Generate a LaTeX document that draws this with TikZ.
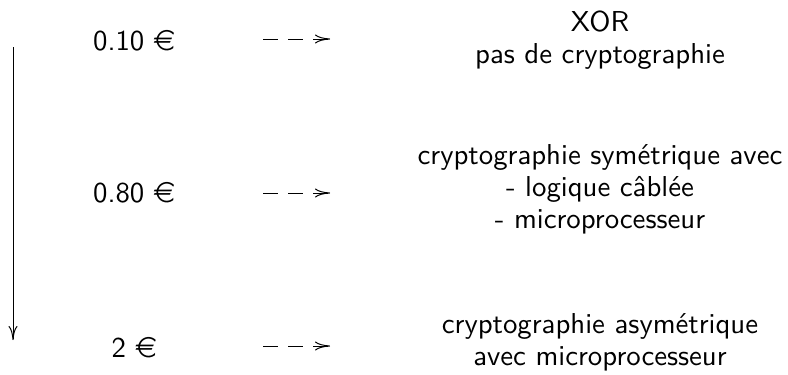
\documentclass[tikz,border=0pt]{standalone}
\usepackage{fontspec}
\usepackage{eurosym}
\usetikzlibrary{arrows.meta}
\begin{document}
\begin{tikzpicture}[x=1pt,y=1pt,
  lbl/.style={inner sep=0pt, align=center, scale=2.88, transform shape,
    font=\sffamily\fontsize{10}{11}\selectfont},
  price/.style={lbl, anchor=base},
  desc/.style={lbl, anchor=base},
  costarrow/.style={line width=1pt, dash pattern=on 15pt off 10pt,
    -{Computer Modern Rightarrow[length=15pt,width=9pt,line width=1pt]}},
  scalearrow/.style={line width=1pt,
    -{Computer Modern Rightarrow[length=14pt,width=9pt,line width=1pt]}}]
  \useasboundingbox (0,0) rectangle (788,-375);

  % cost axis
  \coordinate (axtop) at (13,-47);
  \coordinate (axbot) at (13,-340);
  \draw[scalearrow] (axtop) -- (axbot);

  % prices
  \node[price] (p1) at (134,-50)  {0.10 \euro};
  \node[price] (p2) at (134,-202) {0.80 \euro};
  \node[price] (p3) at (134,-357) {2 \euro};

  % what each price buys (base anchor = last line)
  \node[desc] (d1) at (600,-63)  {XOR\\pas de cryptographie};
  \node[desc] (d2) at (600,-228) {cryptographie symétrique avec\\- logique câblée\\- microprocesseur};
  \node[desc] (d3) at (600,-365) {cryptographie asymétrique\\avec microprocesseur};

  % dashed pointers from price to technology
  \coordinate (a1s) at (263,-39);  \coordinate (a1e) at (330,-39);
  \coordinate (a2s) at (263,-193); \coordinate (a2e) at (330,-193);
  \coordinate (a3s) at (263,-346); \coordinate (a3e) at (330,-346);
  \draw[costarrow] (a1s) -- (a1e);
  \draw[costarrow] (a2s) -- (a2e);
  \draw[costarrow] (a3s) -- (a3e);
\end{tikzpicture}
\end{document}
